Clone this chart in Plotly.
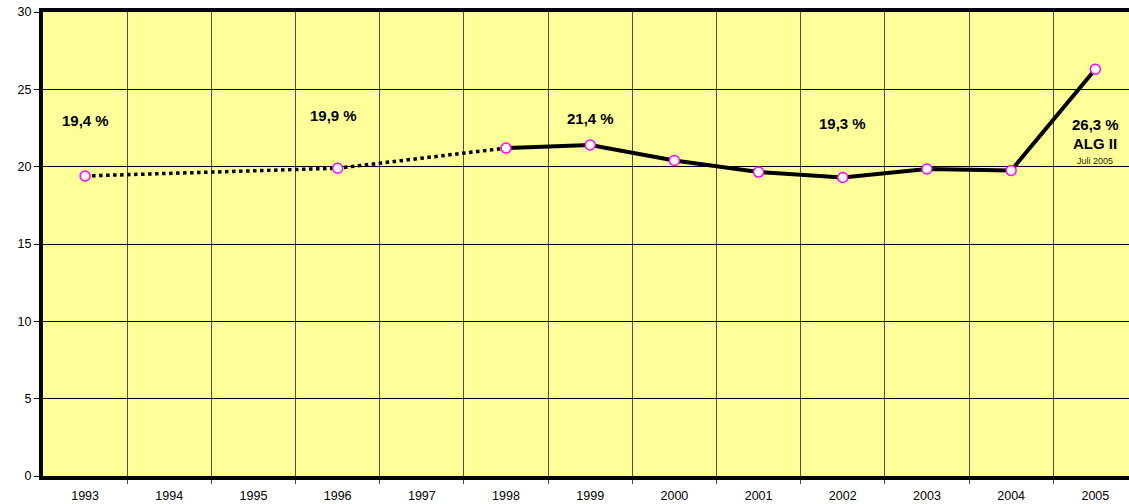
import plotly.graph_objects as go

categories = ["1993", "1994", "1995", "1996", "1997", "1998", "1999",
              "2000", "2001", "2002", "2003", "2004", "2005"]

# Values (percent); missing years are absent
dotted_years = ["1993", "1996", "1998"]
dotted_values = [19.4, 19.9, 21.2]

solid_years = ["1998", "1999", "2000", "2001", "2002", "2003", "2004", "2005"]
solid_values = [21.2, 21.4, 20.4, 19.65, 19.3, 19.85, 19.75, 26.3]

marker_years = ["1993", "1996", "1998", "1999", "2000", "2001", "2002",
                "2003", "2004", "2005"]
marker_values = [19.4, 19.9, 21.2, 21.4, 20.4, 19.65, 19.3, 19.85, 19.75, 26.3]

label_years = ["1993", "1996", "1999", "2002", "2005"]
label_texts = ["19,4 %", "19,9 %", "21,4 %", "19,3 %", "26,3 %"]
label_y = [23.0, 23.3, 23.1, 22.8, 22.75]

idx = lambda ys: [categories.index(y) for y in ys]

fig = go.Figure()
fig.add_trace(go.Scatter(x=idx(dotted_years), y=dotted_values, mode="lines",
                         line=dict(color="black", width=3.5, dash="dot"),
                         hoverinfo="skip"))
fig.add_trace(go.Scatter(x=idx(solid_years), y=solid_values, mode="lines",
                         line=dict(color="black", width=4),
                         hoverinfo="skip"))
fig.add_trace(go.Scatter(x=idx(marker_years), y=marker_values, mode="markers",
                         marker=dict(symbol="circle", size=10, color="white",
                                     line=dict(color="#FF00FF", width=1.5))))

bold_font = dict(family="Liberation Sans, Arial, sans-serif", size=15, color="black")
for yr, t, yy in zip(label_years, label_texts, label_y):
    xo = -0.05 if yr in ("1996",) else 0.0
    fig.add_annotation(x=categories.index(yr) + xo, y=yy, text="<b>" + t + "</b>",
                       showarrow=False, font=bold_font)
fig.add_annotation(x=categories.index("2005"), y=21.5, text="<b>ALG II</b>",
                   showarrow=False, font=bold_font)
fig.add_annotation(x=categories.index("2005"), y=20.35, text="Juli 2005",
                   showarrow=False,
                   font=dict(family="Liberation Sans, Arial, sans-serif", size=9, color="#222"))

fig.update_layout(
    width=1129, height=504,
    margin=dict(l=43, r=0, t=12, b=28),
    paper_bgcolor="white",
    plot_bgcolor="#FFFF99",
    showlegend=False,
    font=dict(family="Liberation Sans, Arial, sans-serif", size=12, color="black"),
)
fig.update_xaxes(
    range=[-0.5, 12.4],
    tickmode="array", tickvals=list(range(len(categories))), ticktext=categories,
    ticks="", showgrid=False, zeroline=False,
    showline=True, linecolor="black", linewidth=4, mirror=True,
    ticklabelstandoff=5,
    tickfont=dict(size=12.5),
    minor=dict(tickmode="array", tickvals=[i + 0.5 for i in range(len(categories) - 1)],
               showgrid=True, gridcolor="#4d4d4d", gridwidth=1,
               ticks="outside", ticklen=4, tickcolor="#4d4d4d"),
)
fig.update_yaxes(
    range=[0, 30], dtick=5, tickmode="linear", tick0=0,
    showgrid=True, gridcolor="black", gridwidth=1, zeroline=False,
    ticks="outside", ticklen=5, tickcolor="black",
    showline=True, linecolor="black", linewidth=4,
    tickfont=dict(size=12.5),
)

fig.write_html("out.html", config={"displayModeBar": False},
               post_script="document.body.style.margin='0';document.body.style.overflow='hidden';")
